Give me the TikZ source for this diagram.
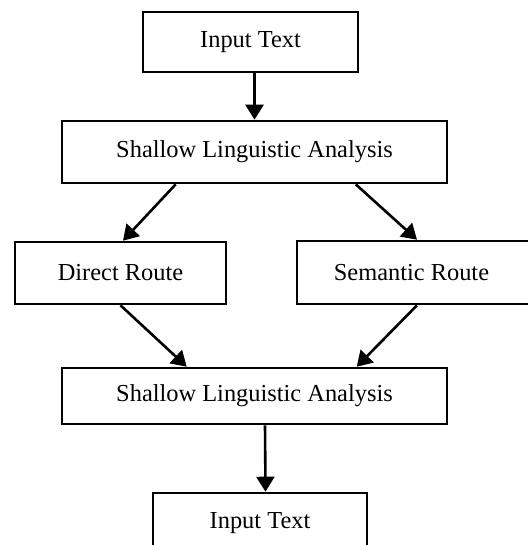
\documentclass[tikz,border=0pt]{standalone}
\usepackage{fontspec}
\setmainfont{Liberation Serif}
\usetikzlibrary{arrows.meta,calc}
\begin{document}
\begin{tikzpicture}[x=1pt,y=-1pt,
  boxstyle/.style={draw=black,line width=2.6pt,inner sep=0pt,
    font=\fontsize{24.4}{28}\selectfont},
  arr/.style={line width=2.6pt,-{Triangle[width=18pt,length=15pt]}}]
\useasboundingbox (0,0) rectangle (527,545);
\node[boxstyle,minimum width=215pt,minimum height=60pt] (in1) at (250.5,42) {Input Text};
\node[boxstyle,minimum width=385pt,minimum height=62pt] (sla1) at (254.5,152) {Shallow Linguistic Analysis};
\node[boxstyle,minimum width=211pt,minimum height=62pt] (dr) at (120.5,273) {Direct Route};
\node[boxstyle,minimum width=237pt,minimum height=63pt] (sr) at (415.5,272.5) {\hspace*{-8pt}Semantic Route};
\node[boxstyle,minimum width=385pt,minimum height=56pt] (sla2) at (254.5,396) {Shallow Linguistic Analysis};
\node[boxstyle,minimum width=214pt,minimum height=60pt] (in2) at (260,523) {Input Text};
\draw[arr] (in1.south -| sla1.north) -- (sla1.north);
\draw[arr] ($(sla1.south west)+(115,0)$) -- ($(dr.north)+(2.5,0)$);
\draw[arr] ($(sla1.south west)+(295,0)$) -- ($(sr.north)+(1.5,0)$);
\draw[arr] (dr.south) -- ($(sla2.north west)+(126,0)$);
\draw[arr] ($(sr.south)+(1.5,0)$) -- ($(sla2.north west)+(296,0)$);
\draw[arr] ($(sla2.south)+(10.5,0)$) -- ($(in2.north)+(5.5,0)$);
\end{tikzpicture}
\end{document}
